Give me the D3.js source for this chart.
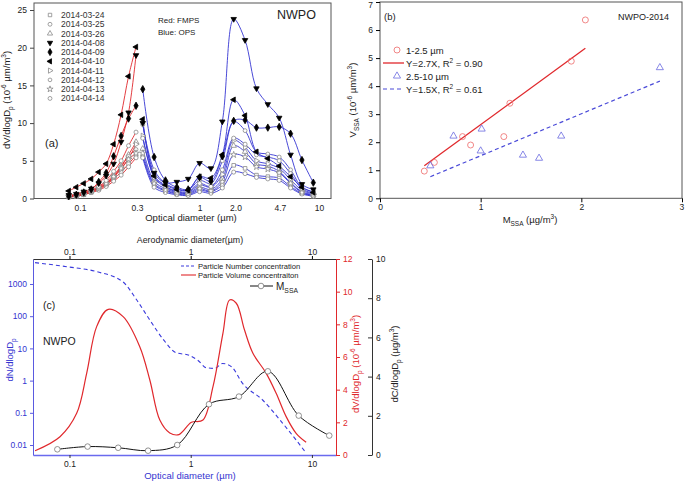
<!DOCTYPE html>
<html><head><meta charset="utf-8">
<script src="https://cdn.jsdelivr.net/npm/d3@7"></script>
<style>body{margin:0;background:#fff} svg{font-family:"Liberation Sans",Arial,sans-serif}</style>
</head><body><svg id="c" width="685" height="481"></svg>
<script>
// ---------- Panel (a) data ----------
const fmpsDiam = [0.0806,0.0931,0.1075,0.1241,0.1433,0.1655,0.1911,0.2207,0.2548,0.2943];
const opsDiam = [0.335,0.417,0.519,0.646,0.804,1.001,1.246,1.552,1.932,2.406,2.996,3.73,4.644,5.782,7.198,8.962];
const dates = ["2014-03-24","2014-03-25","2014-03-26","2014-04-08","2014-04-09","2014-04-10","2014-04-11","2014-04-12","2014-04-13","2014-04-14"];
const symbolNames = ["square","circle","triangle","triangleDown","diamond","triangleLeft","triangleRight","hexagon","star","circle"];
const filledSeries = [false,false,false,true,true,true,false,false,false,false];
const fmps_0324 = [0.2,0.3,0.5,0.8,1.2,1.8,2.6,3.5,4.6,5.7];
const ops_0324  = [5.6,1.8,1.0,0.6,0.5,1.1,0.9,1.8,4.4,4.0,3.1,2.9,2.7,1.6,0.7,0.4];
const fmps_0325 = [0.2,0.3,0.5,0.8,1.1,1.6,2.3,3.1,4.2,5.4];
const ops_0325  = [5.4,1.5,0.8,0.5,0.4,0.9,0.7,1.4,3.5,3.3,2.8,2.6,2.4,1.4,0.6,0.3];
const fmps_0326 = [0.3,0.4,0.7,1.0,1.5,2.2,3.1,4.3,5.8,7.5];
const ops_0326  = [6.6,2.3,1.3,0.8,0.7,1.5,1.2,2.6,7.0,6.2,4.6,4.3,3.6,2.1,0.9,0.5];
const fmps_0408 = [0.45,0.6,0.9,1.3,2.0,3.0,4.6,7.5,11.4,19.0];
const ops_0408  = [10.0,3.4,2.1,2.2,2.6,4.7,4.0,10.2,23.8,21.0,14.6,12.5,10.7,5.8,1.9,1.2];
const fmps_0409 = [0.3,0.5,0.8,1.2,2.2,3.4,5.6,8.3,10.6,12.3];
const ops_0409  = [14.5,5.5,2.4,1.5,1.2,2.8,2.3,5.6,10.3,10.4,9.4,9.4,9.5,8.6,5.1,2.1];
const fmps_0410 = [1.0,1.5,2.0,2.6,3.5,4.6,7.2,11.1,16.2,20.1];
const ops_0410  = [10.5,3.0,1.8,1.2,1.1,2.9,2.7,5.8,13.1,11.0,6.2,5.3,4.3,2.9,1.5,0.8];
const fmps_0411 = [0.25,0.35,0.6,0.9,1.3,1.9,2.8,3.9,5.3,7.2];
const ops_0411  = [8.3,2.8,1.5,0.9,0.8,1.8,1.5,3.2,7.7,6.8,5.0,4.6,4.0,2.5,1.1,0.6];
const fmps_0412 = [0.25,0.4,0.6,0.9,1.4,2.0,2.9,4.2,5.6,6.5];
const ops_0412  = [9.8,3.8,2.0,1.3,1.1,2.4,2.0,5.0,10.2,9.0,6.2,5.9,5.5,3.8,1.5,0.9];
const fmps_0413 = [0.3,0.4,0.6,1.0,1.4,2.0,2.9,4.0,5.2,6.0];
const ops_0413  = [6.0,2.0,1.1,0.7,0.6,1.3,1.0,2.2,5.8,5.5,4.2,3.9,3.4,2.0,0.8,0.4];
const fmps_0414 = [0.3,0.45,0.7,1.1,1.6,2.4,3.6,5.0,7.0,8.8];
const ops_0414  = [8.0,3.0,1.6,1.0,0.9,2.0,1.6,3.8,8.0,7.2,5.8,5.5,5.0,3.3,1.3,0.7];
const fmpsSeries = [fmps_0324,fmps_0325,fmps_0326,fmps_0408,fmps_0409,fmps_0410,fmps_0411,fmps_0412,fmps_0413,fmps_0414];
const opsSeries  = [ops_0324,ops_0325,ops_0326,ops_0408,ops_0409,ops_0410,ops_0411,ops_0412,ops_0413,ops_0414];
const aTickValues = [0.1,0.3,1,2.0,4.7,10];
const aTickLabels = ["0.1","0.3","1","2.0","4.7","10"];
const aYTicks = [0,5,10,15,20,25];

// ---------- Panel (b) data ----------
const fineM = [0.44,0.54,0.82,0.90,1.23,1.29,1.90,2.04];
const fineV = [0.97,1.28,2.20,1.90,2.20,3.39,4.89,6.36];
const coarseM = [0.50,0.73,1.01,1.00,1.42,1.58,1.80,2.78];
const coarseV = [1.16,2.22,2.47,1.69,1.54,1.43,2.22,4.66];
const fineFitX = [0.44,2.04];
const fineFitY = [1.16,5.35];
const coarseFitX = [0.50,2.78];
const coarseFitY = [0.77,4.18];
const bXTicks = [0,1,2,3];
const bYTicks = [0,1,2,3,4,5,6,7];

// ---------- Panel (c) data ----------
const numDiam = [0.052,0.0954,0.168,0.275,0.359,0.46,0.60,0.75,0.98,1.15,1.35,1.58,1.83,2.17,2.68,3.92,5.72,7.45,9.0];
const numConc = [4600,3440,2410,1180,318,76,18,7.5,6.0,4.2,2.5,2.4,3.4,2.7,0.82,0.25,0.048,0.014,0.0055];
const volDiam = [0.052,0.0835,0.1146,0.1386,0.1675,0.2086,0.277,0.38,0.46,0.556,0.672,0.80,1.014,1.262,1.527,1.844,2.094,2.378,2.78,3.26,4.20,5.07,6.13,7.41,8.96];
const volConc = [0.26,1.12,2.55,5.0,7.86,8.92,8.47,6.63,4.59,2.14,1.35,1.25,2.0,2.14,4.18,7.45,9.49,9.29,7.65,6.23,5.0,3.78,2.35,1.33,0.78];
const massDiam = [0.0794,0.141,0.252,0.445,0.774,1.415,2.50,4.33,7.78,13.9];
const massConc = [0.29,0.43,0.37,0.22,0.51,2.59,2.98,4.27,2.01,0.99];
const cNTicks = [0.01,0.1,1,10,100,1000];
const cNLabels = ["0.01","0.1","1","10","100","1000"];
const cXTicks = [0.1,1,10];
const cVTicks = [0,2,4,6,8,10,12];
const cCTicks = [0,2,4,6,8,10];

// ---------- helpers ----------
const svg = d3.select("#c");
const RED = "#e0282c", BLUE = "#3535d2", GRAY = "#8a8a8a";
const fmtInt = d3.format("d");

function rich(sel, parts, fs) {
  let cur = 0;
  parts.forEach(([t, k]) => {
    const target = k === "sub" ? fs * 0.3 : k === "sup" ? -fs * 0.4 : 0;
    const ts = sel.append("tspan").text(t).attr("dy", target - cur);
    if (k) ts.attr("font-size", fs * 0.68);
    cur = target;
  });
}
function label(x, y, parts, fs, opts = {}) {
  const t = svg.append("text").attr("font-size", fs).attr("fill", opts.fill || "#222")
    .attr("text-anchor", opts.anchor || "start");
  if (opts.rotate) t.attr("transform", `translate(${x},${y}) rotate(-90)`);
  else t.attr("x", x).attr("y", y);
  rich(t, parts, fs);
  return t;
}
function symbolPath(name, size) {
  const tri = d3.symbol(d3.symbolTriangle, size)();
  switch (name) {
    case "square": return { d: d3.symbol(d3.symbolSquare, size)(), r: 0 };
    case "circle": return { d: d3.symbol(d3.symbolCircle, size)(), r: 0 };
    case "hexagon": return { d: d3.symbol(d3.symbolCircle, size * 0.9)(), r: 0 };
    case "triangle": return { d: tri, r: 0 };
    case "triangleDown": return { d: tri, r: 180 };
    case "triangleLeft": return { d: tri, r: -90 };
    case "triangleRight": return { d: tri, r: 90 };
    case "diamond": return { d: d3.symbol(d3.symbolDiamond, size * 1.2)(), r: 0 };
    case "star": return { d: d3.symbol(d3.symbolStar, size)(), r: 0 };
  }
}
function drawMarker(g, name, x, y, filled, size) {
  const s = symbolPath(name, size);
  g.append("path").attr("d", s.d)
    .attr("transform", `translate(${x},${y}) rotate(${s.r})`)
    .attr("fill", filled ? "#000" : "#fff")
    .attr("stroke", filled ? "#000" : GRAY).attr("stroke-width", 0.8);
}

// =============== Panel (a) ===============
const xA = d3.scaleLog().domain([0.0412, 12.6]).range([34, 331]);
const yA = d3.scaleLinear().domain([0, 25]).range([198.5, 10]);
const gA = svg.append("g");
gA.append("rect").attr("x", 34).attr("y", 3).attr("width", 297).attr("height", 195.5)
  .attr("fill", "none").attr("stroke", "#555").attr("stroke-width", 1);
const axA = gA.append("g").attr("transform", "translate(34,0)")
  .call(d3.axisLeft(yA).tickValues(aYTicks).tickFormat(fmtInt).tickSize(4).tickSizeOuter(0).tickPadding(3));
axA.select(".domain").remove();
axA.selectAll("text").attr("font-size", 8.5).attr("font-family", null).attr("fill", "#222");
axA.selectAll("line").attr("stroke", "#444");
const axAx = gA.append("g").attr("transform", "translate(0,198.5)")
  .call(d3.axisBottom(xA).tickValues(aTickValues).tickFormat((d, i) => aTickLabels[i]).tickSize(0).tickPadding(6));
axAx.select(".domain").remove();
axAx.selectAll("text").attr("font-size", 8.5).attr("font-family", null).attr("fill", "#222");

const lineA = d3.line().curve(d3.curveCatmullRom.alpha(0.5)).x(d => xA(d[0])).y(d => yA(d[1]));
const order = [0,1,2,6,7,8,9,4,5,3];
order.forEach(i => {
  const fp = fmpsDiam.map((d, j) => [d, fmpsSeries[i][j]]);
  const op = opsDiam.map((d, j) => [d, opsSeries[i][j]]);
  gA.append("path").attr("d", lineA(fp)).attr("fill", "none").attr("stroke", RED).attr("stroke-width", 0.9);
  gA.append("path").attr("d", lineA(op)).attr("fill", "none").attr("stroke", BLUE).attr("stroke-width", 0.9);
});
order.forEach(i => {
  fmpsDiam.forEach((d, j) => drawMarker(gA, symbolNames[i], xA(d), yA(fmpsSeries[i][j]), filledSeries[i], 13));
  opsDiam.forEach((d, j) => drawMarker(gA, symbolNames[i], xA(d), yA(opsSeries[i][j]), filledSeries[i], 13));
});
// legend (a)
dates.forEach((dt, i) => {
  const y = 15 + i * 9.27;
  drawMarker(gA, symbolNames[i], 50, y, filledSeries[i], 12);
  gA.append("text").attr("x", 61).attr("y", y + 3).attr("font-size", 8.5).attr("fill", "#333").text(dt);
});
label(158, 23, [["Red: FMPS"]], 8);
label(158, 35, [["Blue: OPS"]], 8);
label(277, 19, [["NWPO"]], 12.5);
label(45, 147, [["(a)"]], 11);
label(10, 100, [["dV/dlogD"], ["p", "sub"], [" (10"], ["-6", "sup"], [" µm/m"], ["3", "sup"], [")"]], 9.5, { rotate: true, anchor: "middle" });
label(191, 221, [["Optical diameter (µm)"]], 9.5, { anchor: "middle" });

// =============== Panel (b) ===============
const xB = d3.scaleLinear().domain([0, 3]).range([380, 682]);
const yB = d3.scaleLinear().domain([0, 7]).range([198.3, 2]);
const gB = svg.append("g");
gB.append("rect").attr("x", 380).attr("y", 2).attr("width", 302).attr("height", 196.3)
  .attr("fill", "none").attr("stroke", "#555").attr("stroke-width", 1);
const bY = gB.append("g").attr("transform", "translate(380,0)")
  .call(d3.axisLeft(yB).tickValues(bYTicks).tickFormat(fmtInt).tickSize(4).tickSizeOuter(0).tickPadding(3));
bY.select(".domain").remove();
bY.selectAll("text").attr("font-size", 8.5).attr("font-family", null).attr("fill", "#222");
bY.selectAll(".tick").filter(d => d === 7).select("text").attr("dy", "0.6em");
const bX = gB.append("g").attr("transform", "translate(0,198.3)")
  .call(d3.axisBottom(xB).tickValues(bXTicks).tickFormat(fmtInt).tickSize(4).tickSizeOuter(0).tickPadding(2));
bX.select(".domain").remove();
bX.selectAll("text").attr("font-size", 8.5).attr("font-family", null).attr("fill", "#222");
bX.selectAll(".tick").filter(d => d === 3).select("text").attr("text-anchor", "end").attr("dx", "0.2em");

gB.append("path").attr("d", d3.line()(fineFitX.map((m, i) => [xB(m), yB(fineFitY[i])])))
  .attr("stroke", RED).attr("stroke-width", 1.3).attr("fill", "none");
gB.append("path").attr("d", d3.line()(coarseFitX.map((m, i) => [xB(m), yB(coarseFitY[i])])))
  .attr("stroke", "#4a4ad8").attr("stroke-width", 1.2).attr("stroke-dasharray", "4,3").attr("fill", "none");
fineM.forEach((m, i) => gB.append("circle").attr("cx", xB(m)).attr("cy", yB(fineV[i])).attr("r", 3)
  .attr("fill", "none").attr("stroke", "#ee6a6a").attr("stroke-width", 0.8));
const triB = d3.symbol(d3.symbolTriangle, 22)();
coarseM.forEach((m, i) => gB.append("path").attr("d", triB).attr("transform", `translate(${xB(m)},${yB(coarseV[i])})`)
  .attr("fill", "none").attr("stroke", "#6a6ae0").attr("stroke-width", 0.8));
// legend (b)
gB.append("circle").attr("cx", 397).attr("cy", 50).attr("r", 3).attr("fill", "none").attr("stroke", "#ee6a6a").attr("stroke-width", 0.8);
label(406, 53.5, [["1-2.5 µm"]], 9.5);
gB.append("line").attr("x1", 383).attr("x2", 404).attr("y1", 63).attr("y2", 63).attr("stroke", RED).attr("stroke-width", 1.3);
label(406, 66.5, [["Y=2.7X, R"], ["2", "sup"], [" = 0.90"]], 9.5);
gB.append("path").attr("d", triB).attr("transform", "translate(397,76)").attr("fill", "none").attr("stroke", "#6a6ae0").attr("stroke-width", 0.8);
label(406, 79.5, [["2.5-10 µm"]], 9.5);
gB.append("line").attr("x1", 383).attr("x2", 404).attr("y1", 89).attr("y2", 89).attr("stroke", "#4a4ad8").attr("stroke-width", 1.2).attr("stroke-dasharray", "4,3");
label(406, 92.5, [["Y=1.5X, R"], ["2", "sup"], [" = 0.61"]], 9.5);
label(384, 20, [["(b)"]], 9.5);
label(618, 20, [["NWPO-2014"]], 9);
label(356, 100, [["V"], ["SSA", "sub"], [" (10"], ["-6", "sup"], [" µm/m"], ["3", "sup"], [")"]], 9.5, { rotate: true, anchor: "middle" });
label(530, 223, [["M"], ["SSA", "sub"], ["  (µg/m"], ["3", "sup"], [")"]], 9.5, { anchor: "middle" });

// =============== Panel (c) ===============
const xC = d3.scaleLog().domain([0.05, 15.8]).range([33, 336]);
const yN = d3.scaleLog().domain([0.0049, 5970]).range([455, 259]);
const yV = d3.scaleLinear().domain([0, 12]).range([455, 259]);
const yC = d3.scaleLinear().domain([0, 10]).range([455, 259]);
const gC = svg.append("g");

const cL = gC.append("g").attr("transform", "translate(33,0)")
  .call(d3.axisLeft(yN).tickValues(cNTicks).tickFormat((d, i) => cNLabels[i]).tickSize(3).tickSizeOuter(0).tickPadding(3));
cL.select(".domain").attr("stroke", "#5a5ae0");
cL.selectAll("line").attr("stroke", "#5a5ae0");
cL.selectAll("text").attr("font-size", 8.5).attr("font-family", null).attr("fill", "#3434d0");

const cB = gC.append("g").attr("transform", "translate(0,455)")
  .call(d3.axisBottom(xC).tickValues(cXTicks).tickFormat(d => d3.format("~g")(d)).tickSize(3).tickSizeOuter(0).tickPadding(3));
cB.select(".domain").attr("stroke", "#6a6aee").attr("stroke-width", 1.6);
cB.selectAll("line").attr("stroke", "#333");
cB.selectAll("text").attr("font-size", 8.5).attr("font-family", null).attr("fill", "#222");

const cT = gC.append("g").attr("transform", "translate(0,259)")
  .call(d3.axisTop(xC).tickValues(cXTicks).tickFormat(d => d3.format("~g")(d)).tickSize(3).tickSizeOuter(0).tickPadding(1));
cT.select(".domain").attr("stroke", "#333");
cT.selectAll("text").attr("font-size", 8.5).attr("font-family", null).attr("fill", "#222");

const cR = gC.append("g").attr("transform", "translate(336,0)")
  .call(d3.axisRight(yV).tickValues(cVTicks).tickFormat(fmtInt).tickSize(4).tickSizeOuter(0).tickPadding(3));
cR.select(".domain").attr("stroke", RED);
cR.selectAll("line").attr("stroke", RED);
cR.selectAll("text").attr("font-size", 8.5).attr("font-family", null).attr("fill", RED);

const cK = gC.append("g").attr("transform", "translate(372,0)")
  .call(d3.axisRight(yC).tickValues(cCTicks).tickFormat(fmtInt).tickSize(-4).tickSizeOuter(0).tickPadding(4));
cK.select(".domain").attr("stroke", "#333");
cK.selectAll("line").attr("stroke", "#333");
cK.selectAll("text").attr("font-size", 8.5).attr("font-family", null).attr("fill", "#222");

const lineMono = d3.line().curve(d3.curveMonotoneX);
gC.append("path").attr("d", lineMono(numDiam.map((d, i) => [xC(d), yN(numConc[i])])))
  .attr("fill", "none").attr("stroke", "#3a3adc").attr("stroke-width", 1.1).attr("stroke-dasharray", "4,3");
const lineCR = d3.line().curve(d3.curveCatmullRom.alpha(0.5));
gC.append("path").attr("d", lineCR(volDiam.map((d, i) => [xC(d), yV(volConc[i])])))
  .attr("fill", "none").attr("stroke", RED).attr("stroke-width", 1.2);
gC.append("path").attr("d", lineCR(massDiam.map((d, i) => [xC(d), yC(massConc[i])])))
  .attr("fill", "none").attr("stroke", "#111").attr("stroke-width", 1);
massDiam.forEach((d, i) => gC.append("circle").attr("cx", xC(d)).attr("cy", yC(massConc[i])).attr("r", 2.8)
  .attr("fill", "#fff").attr("stroke", "#777").attr("stroke-width", 0.8));

// legend (c)
gC.append("line").attr("x1", 181).attr("x2", 196).attr("y1", 266).attr("y2", 266).attr("stroke", "#3a3adc").attr("stroke-width", 1.1).attr("stroke-dasharray", "3,2");
label(198, 269, [["Particle Number concentration"]], 7.6);
gC.append("line").attr("x1", 181).attr("x2", 196).attr("y1", 275).attr("y2", 275).attr("stroke", RED).attr("stroke-width", 1.1);
label(198, 278, [["Particle Volume concentraiton"]], 7.6);
gC.append("line").attr("x1", 250).attr("x2", 273).attr("y1", 286).attr("y2", 286).attr("stroke", "#111").attr("stroke-width", 1);
gC.append("circle").attr("cx", 261).attr("cy", 286).attr("r", 2.8).attr("fill", "#fff").attr("stroke", "#777").attr("stroke-width", 0.8);
label(276, 290, [["M"], ["SSA", "sub"]], 10);
label(43, 309, [["(c)"]], 10.5);
label(43, 345, [["NWPO"]], 10.5);
label(13, 360, [["dN/dlogD"], ["p", "sub"]], 9.5, { rotate: true, anchor: "middle", fill: "#3434d0" });
label(359, 364, [["dV/dlogD"], ["p", "sub"], [" (10"], ["-6", "sup"], [" µm/m"], ["3", "sup"], [")"]], 9.5, { rotate: true, anchor: "middle", fill: RED });
label(398, 364, [["dC/dlogD"], ["p", "sub"], [" (µg/m"], ["3", "sup"], [")"]], 9.5, { rotate: true, anchor: "middle" });
label(190, 479, [["Optical diameter (µm)"]], 9.5, { anchor: "middle", fill: "#3434d0" });
label(190, 243, [["Aerodynamic diameter(µm)"]], 8.8, { anchor: "middle" });
</script></body></html>
